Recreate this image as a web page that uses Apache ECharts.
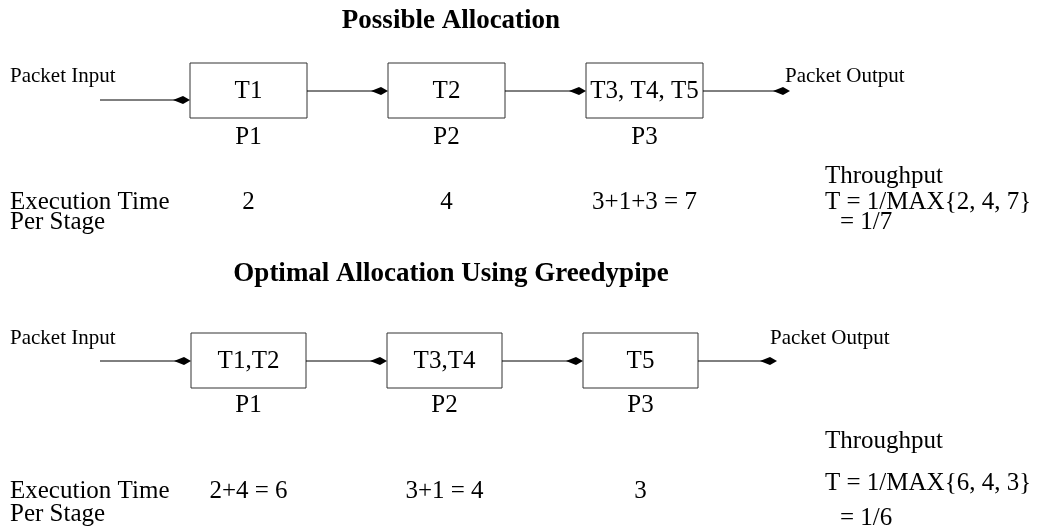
<!DOCTYPE html>
<html><head><meta charset="utf-8">
<script src="https://cdn.jsdelivr.net/npm/echarts@6/dist/echarts.min.js"></script>
<style>html,body{margin:0;padding:0;background:#fff}#c{width:1049px;height:531px}</style>
</head><body><div id="c"></div>
<script>
// ---------- data ----------
const panelTitles = ['Possible Allocation', 'Optimal Allocation Using Greedypipe'];
const processors = ['P1', 'P2', 'P3'];
const possibleTasks = ['T1', 'T2', 'T3, T4, T5'];
const possibleTimeLabels = ['2', '4', '3+1+3 = 7'];
const possibleStageTimes = [2, 4, 7];
const optimalTasks = ['T1,T2', 'T3,T4', 'T5'];
const optimalTimeLabels = ['2+4 = 6', '3+1 = 4', '3'];
const optimalStageTimes = [6, 4, 3];
const rowLabels = ['Execution Time', 'Per Stage'];
const ioLabels = ['Packet Input', 'Packet Output'];
const throughputLabel = 'Throughput';

// ---------- layout (pixel-like units on hidden axes) ----------
const FONT = 'Liberation Serif, Times New Roman, serif';
const BODY = '25px ' + FONT;
const LAYOUT = [
  { titleY: 21, ioY: 76, boxTop: 63, boxBottom: 118, inY: 100, flowY: 91, pY: 137,
    thrY: 176, execY: 202, perY: 222, eqY: 202, resY: 222, x0: 248.5, step: 198, boxW: 117,
    inStart: 100, outEnd: 790, outLabelX: 785 },
  { titleY: 274, ioY: 338, boxTop: 333, boxBottom: 388, inY: 361, flowY: 361, pY: 405,
    thrY: 441, execY: 491, perY: 514, eqY: 483, resY: 518, x0: 248.5, step: 196, boxW: 115,
    inStart: 100, outEnd: 777, outLabelX: 770 }
];
const panels = [
  { title: panelTitles[0], tasks: possibleTasks, times: possibleTimeLabels, stage: possibleStageTimes },
  { title: panelTitles[1], tasks: optimalTasks, times: optimalTimeLabels, stage: optimalStageTimes }
];

const stageData = [];
panels.forEach((pn, p) => pn.tasks.forEach((t, i) => stageData.push([i, p])));
const panelData = panels.map((pn, p) => [0, p]);

function txt(x, y, s, opt) {
  return { type: 'text', style: Object.assign({ x: x, y: y, text: s, fill: '#000',
    font: BODY, textAlign: 'center', textVerticalAlign: 'middle' }, opt || {}) };
}
function arrow(api, xa, xb, y) {
  const a = api.coord([xa, y]), b = api.coord([xb, y]);
  const tx = b[0], ty = b[1];
  return [
    { type: 'line', shape: { x1: a[0], y1: a[1], x2: tx - 12, y2: ty }, style: { stroke: '#000', lineWidth: 1 } },
    { type: 'polygon', shape: { points: [[tx, ty], [tx - 7, ty - 4], [tx - 17, ty], [tx - 7, ty + 4]] },
      style: { fill: '#000', stroke: null } }
  ];
}

function renderStage(params, api) {
  const i = api.value(0), p = api.value(1);
  const L = LAYOUT[p], pn = panels[p];
  const cx = L.x0 + L.step * i;
  const tl = api.coord([cx - L.boxW / 2, L.boxTop]);
  const br = api.coord([cx + L.boxW / 2, L.boxBottom]);
  const mid = api.coord([cx, (L.boxTop + L.boxBottom) / 2]);
  const pPt = api.coord([cx, L.pY]);
  const tPt = api.coord([cx, L.execY]);
  const prevRight = i === 0 ? L.inStart : (L.x0 + L.step * (i - 1) + L.boxW / 2);
  const yArr = i === 0 ? L.inY : L.flowY;
  const children = [
    { type: 'rect', shape: { x: tl[0], y: tl[1], width: br[0] - tl[0], height: br[1] - tl[1] },
      style: { fill: '#fff', stroke: '#333', lineWidth: 1 } },
    txt(mid[0], mid[1] + 1, pn.tasks[i]),
    txt(pPt[0], pPt[1], processors[i]),
    txt(tPt[0], tPt[1], pn.times[i])
  ].concat(arrow(api, prevRight, cx - L.boxW / 2, yArr));
  return { type: 'group', children: children };
}

function renderPanel(params, api) {
  const p = api.value(1);
  const L = LAYOUT[p], pn = panels[p];
  const lastRight = L.x0 + L.step * (pn.tasks.length - 1) + L.boxW / 2;
  const title = api.coord([451, L.titleY]);
  const inL = api.coord([10, L.ioY]);
  const outL = api.coord([L.outLabelX, L.ioY]);
  const ex = api.coord([10, L.execY]);
  const per = api.coord([10, L.perY]);
  const thr = api.coord([825, L.thrY]);
  const eq = api.coord([825, L.eqY]);
  const res = api.coord([840, L.resY]);
  const maxT = Math.max.apply(null, pn.stage);
  const children = [
    txt(title[0], title[1], pn.title, { font: 'bold 27px ' + FONT }),
    txt(inL[0], inL[1], ioLabels[0], { font: '21px ' + FONT, textAlign: 'left' }),
    txt(outL[0], outL[1], ioLabels[1], { font: '21px ' + FONT, textAlign: 'left' }),
    txt(ex[0], ex[1], rowLabels[0], { textAlign: 'left' }),
    txt(per[0], per[1], rowLabels[1], { textAlign: 'left' }),
    txt(thr[0], thr[1], throughputLabel, { textAlign: 'left' }),
    txt(eq[0], eq[1], 'T = 1/MAX{' + pn.stage.join(', ') + '}', { textAlign: 'left' }),
    txt(res[0], res[1], '= 1/' + maxT, { textAlign: 'left' })
  ].concat(arrow(api, lastRight, L.outEnd, L.flowY));
  return { type: 'group', children: children };
}

const chart = echarts.init(document.getElementById('c'), null, { renderer: 'canvas' });
chart.setOption({
  backgroundColor: '#fff',
  animation: false,
  grid: { left: 0, right: 0, top: 0, bottom: 0 },
  xAxis: { type: 'value', min: 0, max: 1049, show: false },
  yAxis: { type: 'value', min: 0, max: 531, inverse: true, show: false },
  series: [
    { type: 'custom', name: 'stages', renderItem: renderStage, data: stageData, clip: false, silent: true },
    { type: 'custom', name: 'panels', renderItem: renderPanel, data: panelData, clip: false, silent: true }
  ]
});
</script>
</body></html>
